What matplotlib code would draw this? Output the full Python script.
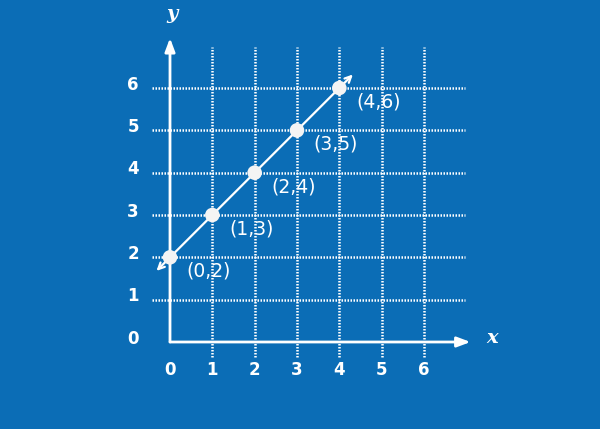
import matplotlib
matplotlib.use("Agg")
import matplotlib.pyplot as plt

xs = [0, 1, 2, 3, 4]
ys = [2, 3, 4, 5, 6]
labels = ["(0,2)", "(1,3)", "(2,4)", "(3,5)", "(4,6)"]
ticks = [0, 1, 2, 3, 4, 5, 6]

BG = "#0b6db6"
W = "white"

fig = plt.figure(figsize=(6.0, 4.29), dpi=100, facecolor=BG)
ax = fig.add_axes([0, 0, 1, 1])
ax.set_facecolor(BG)
u = 42.33
ax.set_xlim(-170 / u, (600 - 170) / u)
ax.set_ylim(-(429 - 342) / u, 342 / u)
ax.axis("off")

# grid
for t in ticks[1:]:
    ax.plot([t, t], [-0.36, 6.97], color=W, lw=1.8, ls=(0, (0.6, 0.6)), zorder=1)
    ax.plot([-0.43, 6.97], [t, t], color=W, lw=1.8, ls=(0, (0.6, 0.6)), zorder=1)

# axes with arrows
ax.annotate("", xy=(7.1, 0), xytext=(0, 0),
            arrowprops=dict(arrowstyle="-|>,head_length=0.8,head_width=0.3", color=W, lw=2,
                            shrinkA=0, shrinkB=0), zorder=2)
ax.annotate("", xy=(0, 7.18), xytext=(0, 0),
            arrowprops=dict(arrowstyle="-|>,head_length=0.8,head_width=0.3", color=W, lw=2,
                            shrinkA=0, shrinkB=0), zorder=2)

# data line with arrows
ax.annotate("", xy=(xs[-1] + 0.32, ys[-1] + 0.32), xytext=(xs[0] - 0.32, ys[0] - 0.32),
            arrowprops=dict(arrowstyle="<->,head_length=0.45,head_width=0.22", color=W, lw=1.6,
                            shrinkA=0, shrinkB=0), zorder=3)
ax.scatter(xs, ys, s=110, color="#f4f4f4", zorder=4, edgecolors="none")

for x, y, lab in zip(xs, ys, labels):
    ax.text(x + 0.92, y - 0.33, lab, color=W, fontsize=13.5, ha="center", va="center",
            family="DejaVu Sans", zorder=5)

for t in ticks:
    ax.text(t, -0.66, str(t), color=W, fontsize=12, weight="bold", ha="center", va="center", zorder=5)
    ax.text(-0.87, t + 0.08, str(t), color=W, fontsize=12, weight="bold", ha="center", va="center", zorder=5)

ax.text(7.6, 0.1, "x", color=W, fontsize=14, ha="center", va="center",
        style="italic", weight="bold", family="DejaVu Serif")
ax.text(0.04, 7.75, "y", color=W, fontsize=14, ha="center", va="center",
        style="italic", weight="bold", family="DejaVu Serif")

fig.savefig("out.png", dpi=100, facecolor=BG)
